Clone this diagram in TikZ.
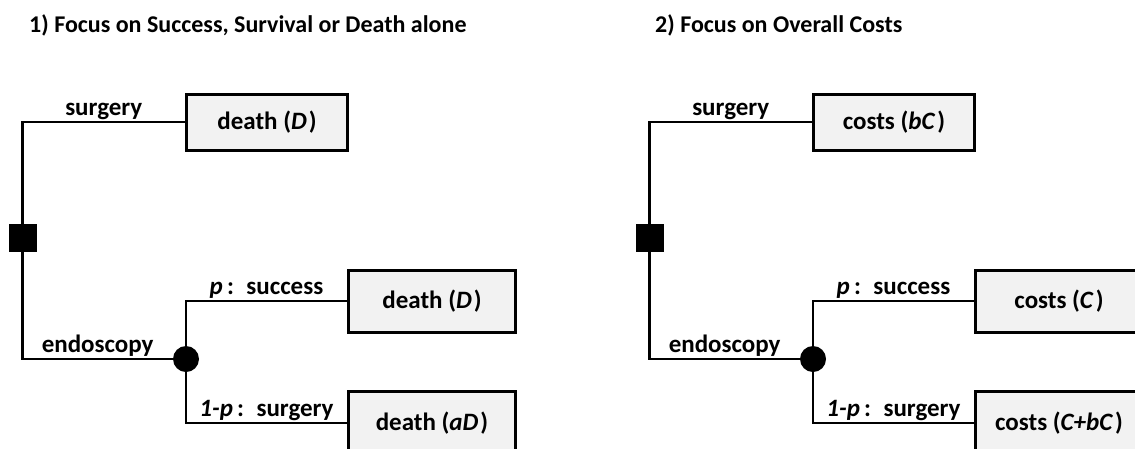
\documentclass[tikz,border=0pt]{standalone}
\usepackage{fontspec}
\setmainfont{Carlito}

\begin{document}
\begin{tikzpicture}[x=1pt,y=-1pt,
    every node/.style={font=\fontsize{25}{30}\selectfont\bfseries},
    branch/.style={line width=2.5pt},
    decision/.style={fill=black, minimum size=28pt, inner sep=0pt},
    chance/.style={circle, fill=black, minimum size=26pt, inner sep=0pt},
    outcome/.style={draw, line width=3pt, fill=gray!10, minimum width=161pt, inner sep=0pt},
    branch label/.style={anchor=base, yshift=7pt, pos=0.75}]

\useasboundingbox (0,0) rectangle (1135,448);
\clip (0,0) rectangle (1135,448);

% Titles
\node[anchor=base west, inner sep=0pt, font=\fontsize{24}{29}\selectfont\bfseries] (title1) at (29,32) {1) Focus on Success, Survival or Death alone};
\node[anchor=base west, inner sep=0pt, font=\fontsize{24}{29}\selectfont\bfseries] (title2) at (655,32) {2) Focus on Overall Costs};

% Tree 1: decision, chance & outcomes
\node[decision] (dec1) at (22.5,238) {};
\node[chance] (chance1) at (186,359) {};
\node[  outcome,
        minimum height=56pt
    ] (surg1) at (267,122) {death (\textit{D}\kern2pt)};
\node[  outcome,
        minimum width=167pt,
        minimum height=62pt
    ] (succ1) at (432,301) {death (\textit{D}\kern2pt)};
\node[  outcome,
        minimum width=167pt,
        minimum height=64pt
    ] (fail1) at (432,423) {death (\textit{aD}\kern2pt)};

% Tree 2: decision, chance & outcomes
\node[decision] (dec2) at (649.5,238) {};
\node[chance] (chance2) at (813,359) {};
\node[  outcome,
        minimum height=56pt
    ] (surg2) at (894,122) {costs (\textit{bC}\kern2pt)};
\node[  outcome,
        minimum width=167pt,
        minimum height=62pt
    ] (succ2) at (1059,301) {costs (\textit{C}\kern2pt)};
\node[  outcome,
        minimum width=167pt,
        minimum height=64pt
    ] (fail2) at (1059,423) {costs (\textit{C+bC}\kern2pt)};

% Branches
\draw[branch]
    (dec1.north) |- (surg1.west) node[branch label] {surgery}
    (dec1.south) |- (chance1.west) node[branch label] {endoscopy}
    (chance1.north) |- (succ1.west) node[branch label] {\textit{p}\,:\enspace success}
    (chance1.south) |- (fail1.west) node[branch label] {\textit{1-p}\,:\enspace surgery};
\draw[branch]
    (dec2.north) |- (surg2.west) node[branch label] {surgery}
    (dec2.south) |- (chance2.west) node[branch label] {endoscopy}
    (chance2.north) |- (succ2.west) node[branch label] {\textit{p}\,:\enspace success}
    (chance2.south) |- (fail2.west) node[branch label] {\textit{1-p}\,:\enspace surgery};
\end{tikzpicture}
\end{document}
